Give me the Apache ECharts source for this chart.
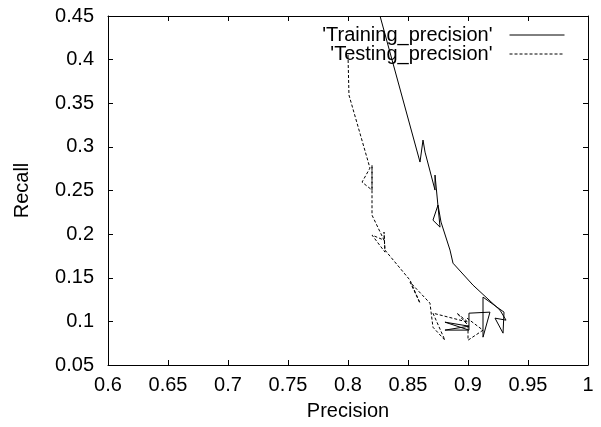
<!DOCTYPE html>
<html>
<head>
<meta charset="utf-8">
<script src="https://cdn.jsdelivr.net/npm/echarts@6/dist/echarts.min.js"></script>
<style>
  html, body { margin: 0; padding: 0; background: #fff; }
  #chart { width: 601px; height: 427px; }
</style>
</head>
<body>
<div id="chart"></div>
<script>
// axis ticks
const xTicks = [0.6, 0.65, 0.7, 0.75, 0.8, 0.85, 0.9, 0.95, 1];
const yTicks = [0.05, 0.1, 0.15, 0.2, 0.25, 0.3, 0.35, 0.4, 0.45];

// 'Training_precision' (solid)
const trainPrecision = [0.8267, 0.86, 0.8625, 0.8642, 0.8725, 0.8725, 0.8767, 0.8708, 0.875, 0.8775,
  0.885, 0.8875, 0.9042, 0.9267, 0.9317, 0.9225, 0.9292, 0.93, 0.9125, 0.9125, 0.9183,
  0.9008, 0.9008, 0.8808, 0.9008, 0.8808, 0.9008];
const trainRecall = [0.45, 0.2826, 0.3078, 0.294, 0.2505, 0.2677, 0.208, 0.216, 0.2333, 0.2138,
  0.1817, 0.1667, 0.1415, 0.1128, 0.1014, 0.1037, 0.0865, 0.1106, 0.1278, 0.0819, 0.1106,
  0.1094, 0.09, 0.0991, 0.0945, 0.09, 0.09];

// 'Testing_precision' (dashed)
const testPrecision = [0.8, 0.8008, 0.8183, 0.8117, 0.82, 0.82, 0.82, 0.82, 0.83, 0.82, 0.8308,
  0.83, 0.8308, 0.8517, 0.86, 0.8517, 0.8683, 0.8708, 0.8808, 0.8708, 0.9, 0.8908, 0.9,
  0.9, 0.9125, 0.8992];
const testRecall = [0.4053, 0.3594, 0.2757, 0.2596, 0.2505, 0.2791, 0.239, 0.2218, 0.1931, 0.1989, 0.1794,
  0.2023, 0.1817, 0.1472, 0.1209, 0.145, 0.1209, 0.0933, 0.0784, 0.1094, 0.0991, 0.1094, 0.0956,
  0.0784, 0.0899, 0.1037];

const FONT = "'Liberation Sans', Arial, sans-serif";

const pairs = (xs, ys) => xs.map((x, i) => [x, ys[i]]);

const chart = echarts.init(document.getElementById('chart'));

const baseX = {
  type: 'value',
  min: xTicks[0],
  max: xTicks[xTicks.length - 1],
  interval: 0.05,
  splitLine: { show: false },
  axisLine: { show: true, onZero: false, lineStyle: { color: '#000', width: 1 } },
  axisTick: { show: true, inside: true, length: 5, lineStyle: { color: '#000' } },
};
const baseY = {
  type: 'value',
  min: yTicks[0],
  max: yTicks[yTicks.length - 1],
  interval: 0.05,
  splitLine: { show: false },
  axisLine: { show: true, onZero: false, lineStyle: { color: '#000', width: 1 } },
  axisTick: { show: true, inside: true, length: 5, lineStyle: { color: '#000' } },
};

const legendBase = {
  right: 36, padding: 0,
  align: 'right',
  itemWidth: 55, itemHeight: 14,
  itemStyle: { opacity: 0 },
  lineStyle: { width: 1 },
  textStyle: { fontSize: 20, color: '#000', fontFamily: FONT, padding: [0, 12, 0, 0] },
};

const option = {
  animation: false,
  backgroundColor: '#fff',
  textStyle: { fontFamily: FONT },
  grid: { left: 108, right: 13, top: 16, bottom: 62, containLabel: false, outerBoundsMode: 'none' },
  legend: [
    Object.assign({}, legendBase, { data: ["'Training_precision'"], top: 25 }),
    Object.assign({}, legendBase, { data: ["'Testing_precision'"], top: 44 }),
  ],
  xAxis: [
    Object.assign({}, baseX, {
      position: 'bottom',
      name: 'Precision',
      nameLocation: 'middle',
      nameGap: 36,
      nameTextStyle: { fontSize: 20, color: '#000', fontFamily: FONT },
      axisLabel: { fontSize: 20, color: '#000', margin: 10, fontFamily: FONT },
    }),
    Object.assign({}, baseX, { position: 'top', axisLabel: { show: false } }),
  ],
  yAxis: [
    Object.assign({}, baseY, {
      position: 'left',
      name: 'Recall',
      nameLocation: 'middle',
      nameGap: 76,
      nameTextStyle: { fontSize: 20, color: '#000', fontFamily: FONT },
      axisLabel: { fontSize: 20, color: '#000', margin: 14, fontFamily: FONT },
    }),
    Object.assign({}, baseY, { position: 'right', axisLabel: { show: false } }),
  ],
  series: [
    {
      name: "'Training_precision'",
      type: 'line',
      symbol: 'none',
      xAxisIndex: 0, yAxisIndex: 0,
      lineStyle: { color: '#000', width: 1, type: 'solid' },
      itemStyle: { color: '#000' },
      data: pairs(trainPrecision, trainRecall),
    },
    {
      name: "'Testing_precision'",
      type: 'line',
      symbol: 'none',
      xAxisIndex: 0, yAxisIndex: 0,
      lineStyle: { color: '#000', width: 1, type: [3, 2] },
      itemStyle: { color: '#000' },
      data: pairs(testPrecision, testRecall),
    },
  ],
};

chart.setOption(option);
</script>
</body>
</html>
